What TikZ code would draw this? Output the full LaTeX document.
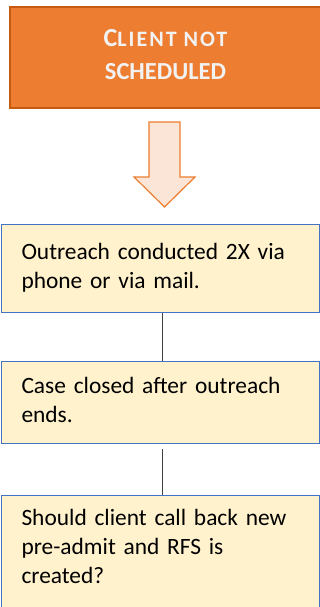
\documentclass[tikz,border=0pt]{standalone}
\usepackage{fontspec}
\setmainfont{Carlito}

\definecolor{orangefill}{HTML}{ED7D31}
\definecolor{orangeedge}{HTML}{C55A11}
\definecolor{arrowfill}{HTML}{FBE5D6}
\definecolor{notefill}{HTML}{FFF2CC}
\definecolor{noteedge}{HTML}{4472C4}
\definecolor{titletext}{HTML}{F2F2F2}
\definecolor{linkgray}{HTML}{404040}

\tikzset{
    titlebox/.style={draw=orangeedge, fill=orangefill, line width=1.2pt,
        minimum width=311pt, minimum height=101pt, align=center, text depth=7pt,
        text=titletext, font=\fontsize{24.5}{33}\selectfont\bfseries},
    notebox/.style={draw=noteedge, fill=notefill, line width=1pt,
        anchor=north west, text width=278pt, align=left, inner xsep=20pt,
        font=\fontsize{23.4}{29}\selectfont,
        execute at begin node=\strut, execute at end node=\strut},
    link/.style={draw=linkgray, line width=1.2pt}
}

\begin{document}
\begin{tikzpicture}[x=1pt, y=1pt]
    \useasboundingbox (0,0) rectangle (320,-607);

    % 标题框
    \node[titlebox] (title) at (165.5,-57.5)
        {{\fontsize{26}{33}\selectfont C}{\fontsize{22}{33}\selectfont\addfontfeature{LetterSpace=9}LIENT NOT}\\SCHEDULED};

    % 向下的空心箭头
    \draw[draw=orangefill, fill=arrowfill, line width=1.2pt, line join=miter]
        (149,-122) -- (180,-122) -- (180,-177) -- (195,-177) -- (164.5,-207)
        -- (134,-177) -- (149,-177) -- cycle;

    % 三个说明框
    \node[notebox, inner ysep=15pt] (outreach) at (1,-224)
        {Outreach conducted 2X via\\phone or via mail.};
    \node[notebox, inner ysep=12pt] (closed) at (1,-361)
        {Case closed after outreach\\ends.};
    \node[notebox, inner ysep=9.7pt, text depth=85pt] (callback) at (1,-495)
        {Should client call back new\\pre-admit and RFS is\\created?};

    % 连接线
    \draw[link] ([xshift=2pt]outreach.south) -- ([xshift=2pt]closed.north);
    \draw[link] ([xshift=2pt,yshift=-5pt]closed.south) -- ([xshift=2pt]callback.north);
\end{tikzpicture}
\end{document}
